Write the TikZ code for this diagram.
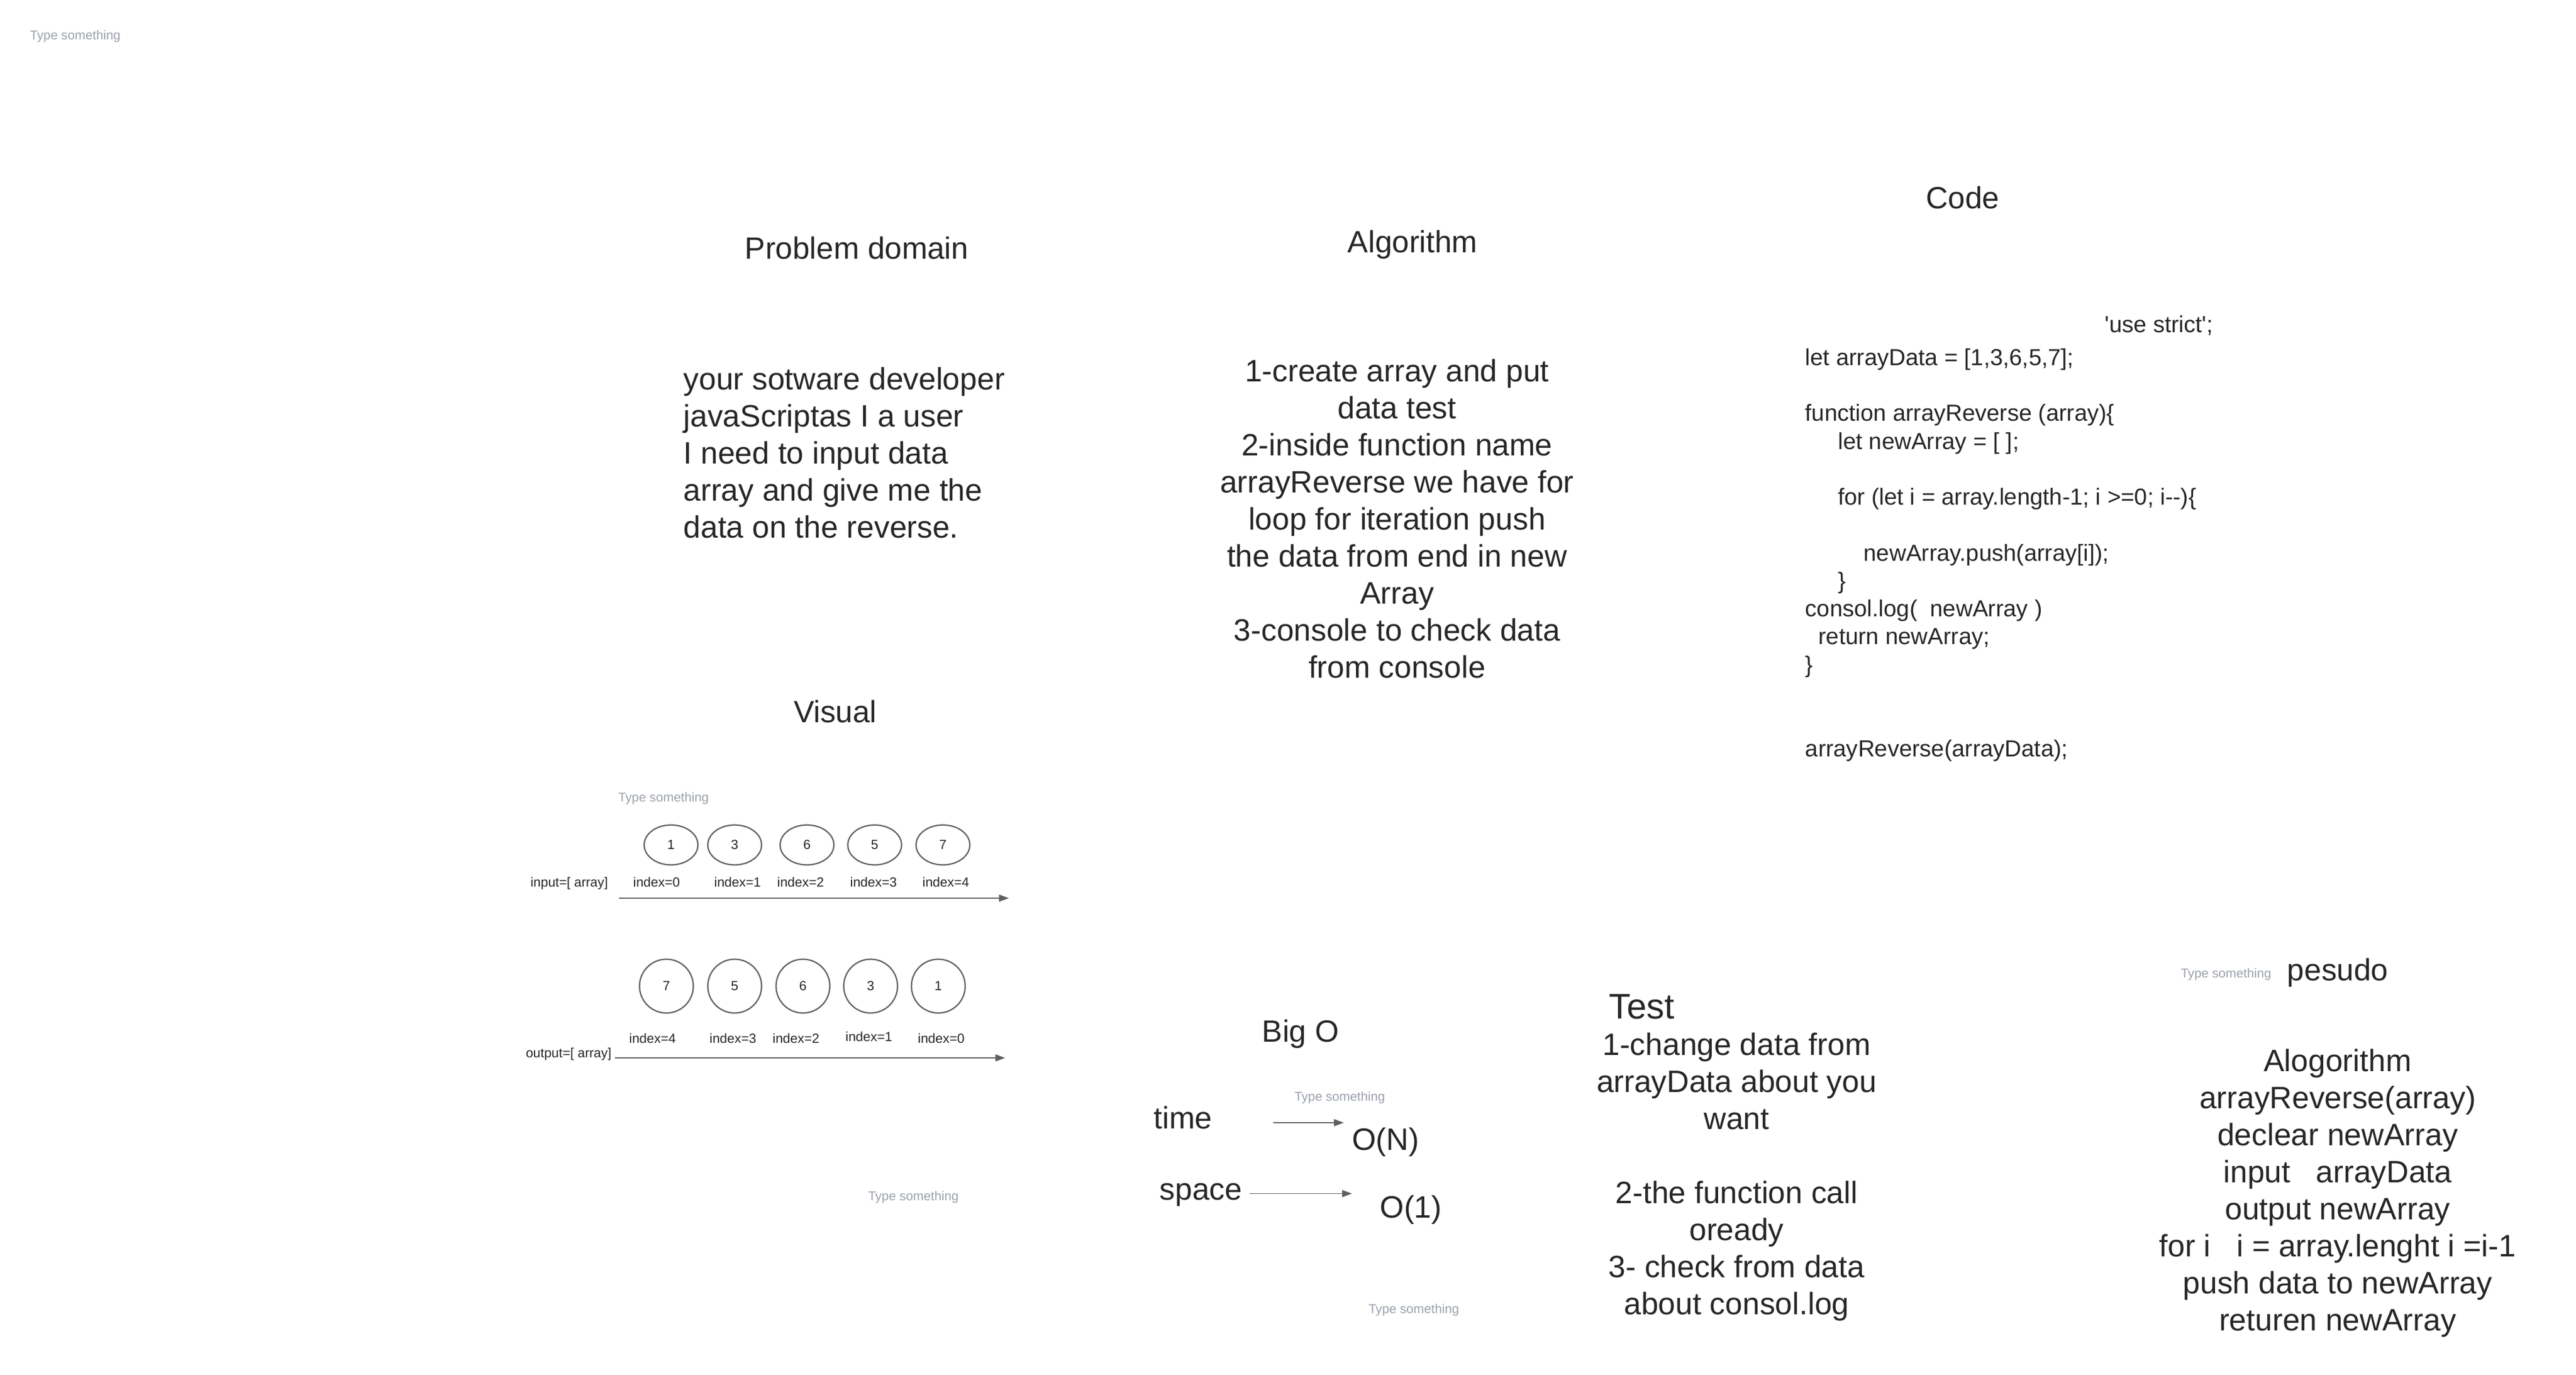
\documentclass[tikz,border=0pt]{standalone}
\usepackage{fontspec}
\setmainfont{Liberation Sans}[Ligatures=TeXOff]
\usetikzlibrary{arrows.meta,shapes.geometric}
\definecolor{txtcol}{HTML}{262626}
\definecolor{linecol}{HTML}{5F5F5F}
\definecolor{hintcol}{HTML}{9AA0AA}
\begin{document}
\begin{tikzpicture}[x=1cm,y=-1cm,
    every node/.style={inner sep=0pt,text=txtcol},
    title/.style={font=\fontsize{15.1}{18.2}\selectfont,anchor=base},
    body/.style={font=\fontsize{15.2}{18.2}\selectfont,anchor=base},
    code/.style={font=\fontsize{11.4}{13.73}\selectfont,anchor=base west,align=left},
    hint/.style={font=\fontsize{6.3}{7.5}\selectfont,text=hintcol,anchor=base},
    small/.style={font=\fontsize{6.5}{7.8}\selectfont,anchor=base},
    oval/.style={ellipse,draw=linecol,line width=0.65pt,minimum width=0.93cm,minimum height=0.69cm,font=\fontsize{6.5}{7.8}\selectfont},
    ring/.style={circle,draw=linecol,line width=0.65pt,minimum size=0.93cm,font=\fontsize{6.5}{7.8}\selectfont},
    arr/.style={draw=linecol,line width=0.5pt,-{Triangle[length=0.17cm,width=0.12cm]}}]
    \useasboundingbox (0,0) rectangle (44.53,23.75);

    \node[hint] (hintA) at (1.30,0.68) {Type something};

    \node[title] (problem) at (14.81,4.47) {Problem domain};
    \node[title] (algo) at (24.42,4.36) {Algorithm};
    \node[title] (code) at (33.93,3.60) {Code};

    \node[body,anchor=base west,align=left] (problemText) at (11.81,9.29) {your sotware developer\\javaScriptas I a user\\I need to input data\\array and give me the\\data on the reverse.};
    \node[body,align=center] (algoText) at (24.15,11.71) {1-create array and put\\data test\\2-inside function name\\arrayReverse we have for\\loop for iteration push\\the data from end in new\\Array\\3-console to check data\\from console};

    \node[code] (strict) at (36.38,5.74) {'use strict';};
    \node[code] (codeText) at (31.20,13.07) {let arrayData = [1,3,6,5,7];\\[13.73pt]
        function arrayReverse (array)\{\\
        \hspace*{16.1pt}let newArray = [ ];\\[13.73pt]
        \hspace*{16.1pt}for (let i = array.length-1; i >=0; i--)\{\\[13.73pt]
        \hspace*{28.7pt}newArray.push(array[i]);\\
        \hspace*{16.1pt}\}\\
        consol.log(\ \ newArray )\\
        \hspace*{6.5pt}return newArray;\\
        \}\\[27.46pt]
        arrayReverse(arrayData);};

    \node[title] (visual) at (14.44,12.48) {Visual};
    \node[hint] (hintB) at (11.47,13.85) {Type something};

    \node[oval] (in0) at (11.60,14.60) {1};
    \node[oval] (in1) at (12.70,14.60) {3};
    \node[oval] (in2) at (13.95,14.60) {6};
    \node[oval] (in3) at (15.12,14.60) {5};
    \node[oval] (in4) at (16.30,14.60) {7};

    \node[small] (inLabel) at (9.84,15.32) {input=[ array]};
    \node[small] (inIdx0) at (11.35,15.32) {index=0};
    \node[small] (inIdx1) at (12.75,15.32) {index=1};
    \node[small] (inIdx2) at (13.84,15.32) {index=2};
    \node[small] (inIdx3) at (15.10,15.32) {index=3};
    \node[small] (inIdx4) at (16.35,15.32) {index=4};
    \coordinate (inStart) at (10.70,15.52);
    \coordinate (inEnd) at (17.44,15.52);
    \draw[arr] (inStart) -- (inEnd);

    \node[ring] (out0) at (11.52,17.04) {7};
    \node[ring] (out1) at (12.70,17.04) {5};
    \node[ring] (out2) at (13.88,17.04) {6};
    \node[ring] (out3) at (15.05,17.04) {3};
    \node[ring] (out4) at (16.22,17.04) {1};

    \node[small] (outIdx0) at (11.28,18.02) {index=4};
    \node[small] (outIdx1) at (12.67,18.02) {index=3};
    \node[small] (outIdx2) at (13.76,18.02) {index=2};
    \node[small] (outIdx3) at (15.02,17.99) {index=1};
    \node[small] (outIdx4) at (16.27,18.02) {index=0};
    \node[small] (outLabel) at (9.83,18.27) {output=[ array]};
    \coordinate (outStart) at (10.63,18.28);
    \coordinate (outEnd) at (17.375,18.28);
    \draw[arr] (outStart) -- (outEnd);

    \node[hint] (hintC) at (15.79,20.74) {Type something};

    \node[title] (bigO) at (22.48,18.00) {Big O};
    \node[hint] (hintD) at (23.16,19.02) {Type something};
    \node[body] (time) at (20.45,19.50) {time};
    \node[body] (space) at (20.76,20.73) {space};
    \node[body] (orderN) at (23.95,19.87) {O(N)};
    \node[body] (order1) at (24.39,21.04) {O(1)};
    \coordinate (timeA) at (22.01,19.40);
    \coordinate (timeB) at (23.23,19.40);
    \coordinate (spaceA) at (21.60,20.625);
    \coordinate (spaceB) at (23.37,20.625);
    \draw[arr] (timeA) -- (timeB);
    \draw[arr] (spaceA) -- (spaceB);
    \node[hint] (hintE) at (24.44,22.69) {Type something};

    \node[font=\fontsize{17.5}{21}\selectfont,anchor=base west] (test) at (27.81,17.60) {Test};
    \node[body,align=center] (testText) at (30.02,22.71) {1-change data from\\arrayData about you\\want\\[18.2pt]2-the function call\\oready\\3- check from data\\about consol.log};

    \node[hint] (hintF) at (38.48,16.89) {Type something};
    \node[title] (pseudo) at (40.41,16.94) {pesudo};
    \node[body,align=center] (pseudoText) at (40.41,22.99) {Alogorithm\\arrayReverse(array)\\declear newArray\\input\ \ \ arrayData\\output newArray\\for i\ \ \ i = array.lenght i =i-1\\push data to newArray\\returen newArray};

\end{tikzpicture}
\end{document}
